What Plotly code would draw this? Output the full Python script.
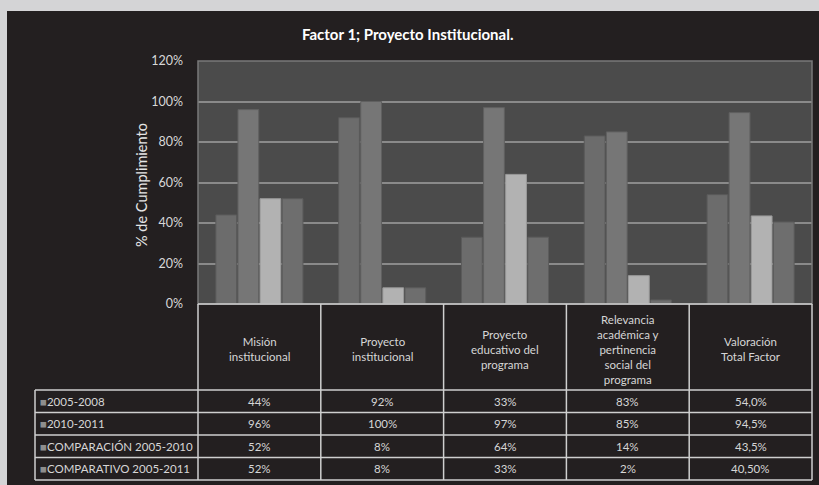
import plotly.graph_objects as go

categories = ["Misión<br>institucional", "Proyecto<br>institucional",
              "Proyecto<br>educativo del<br>programa",
              "Relevancia<br>académica y<br>pertinencia<br>social del<br>programa",
              "Valoración<br>Total Factor"]
series_names = ["2005-2008", "2010-2011", "COMPARACIÓN 2005-2010", "COMPARATIVO 2005-2011"]
s2005_2008 = [44, 92, 33, 83, 54.0]
s2010_2011 = [96, 100, 97, 85, 94.5]
comparacion_2005_2010 = [52, 8, 64, 14, 43.5]
comparativo_2005_2011 = [52, 8, 33, 2, 40.5]
label_2005_2008 = ["44%", "92%", "33%", "83%", "54,0%"]
label_2010_2011 = ["96%", "100%", "97%", "85%", "94,5%"]
label_comparacion = ["52%", "8%", "64%", "14%", "43,5%"]
label_comparativo = ["52%", "8%", "33%", "2%", "40,50%"]
y_ticks = [0, 20, 40, 60, 80, 100, 120]

series_values = [s2005_2008, s2010_2011, comparacion_2005_2010, comparativo_2005_2011]
series_labels = [label_2005_2008, label_2010_2011, label_comparacion, label_comparativo]
bar_colors = ["#6c6c6c", "#767676", "#b2b2b2", "#6e6e6e"]
bar_lines = ["#5a5a5a", "#606060", "#999999", "#5c5c5c"]

W, H = 819, 485
L, R, T, B = 198, 7, 61, 181
PW, PH = W - L - R, H - T - B


def xp(px):
    return (px - L) / PW


def yp(py):
    return (T + PH - py) / PH


fig = go.Figure()
for name, vals, col, lc in zip(series_names, series_values, bar_colors, bar_lines):
    fig.add_trace(go.Bar(x=list(range(len(categories))), y=vals, name=name,
                         marker=dict(color=col, line=dict(color=lc, width=1)),
                         showlegend=False))

shapes = []
shapes.append(dict(type="rect", xref="paper", yref="paper", x0=xp(-5), x1=xp(7), y0=yp(H + 5), y1=yp(-5),
                   fillcolor="#d4d4d6", line=dict(width=0), layer="below"))
shapes.append(dict(type="rect", xref="paper", yref="paper", x0=xp(-5), x1=xp(W + 5), y0=yp(11), y1=yp(-5),
                   fillcolor="#d4d4d6", line=dict(width=0), layer="below"))
shapes.append(dict(type="rect", xref="paper", yref="paper", x0=0, x1=1, y0=0, y1=1,
                   line=dict(color="#7a7a7a", width=1.5), fillcolor="rgba(0,0,0,0)"))

n = len(categories)
line_col = "#cfcfcf"
row_tops = [304, 390, 412.5, 435, 457.5, 480]
for k in range(n + 1):
    shapes.append(dict(type="line", xref="paper", yref="paper", x0=k / n, x1=k / n,
                       y0=yp(row_tops[0]), y1=yp(row_tops[-1]), line=dict(color=line_col, width=1.5)))
shapes.append(dict(type="line", xref="paper", yref="paper", x0=xp(35), x1=xp(35),
                   y0=yp(row_tops[1]), y1=yp(row_tops[-1]), line=dict(color=line_col, width=1.5)))
shapes.append(dict(type="line", xref="paper", yref="paper", x0=0, x1=1,
                   y0=yp(row_tops[0]), y1=yp(row_tops[0]), line=dict(color=line_col, width=1.5)))
for r in row_tops[1:]:
    shapes.append(dict(type="line", xref="paper", yref="paper", x0=xp(35), x1=1,
                       y0=yp(r), y1=yp(r), line=dict(color=line_col, width=1.5)))

annotations = []
FONT = "Lato, 'Open Sans', sans-serif"
TXT = "#d6d6d6"
for i, c in enumerate(categories):
    annotations.append(dict(xref="paper", yref="paper", x=(i + 0.5) / n, y=yp((row_tops[0] + row_tops[1]) / 2 + 2),
                            text=c, showarrow=False, xanchor="center", yanchor="middle",
                            font=dict(family=FONT, size=11.5, color=TXT), align="center"))
for r, (name, labs) in enumerate(zip(series_names, series_labels)):
    yc = yp((row_tops[r + 1] + row_tops[r + 2]) / 2)
    annotations.append(dict(xref="paper", yref="paper", x=xp(38), y=yc, xanchor="left", yanchor="middle",
                            text="<span style='color:#8e8e8e'>■</span>" + name, showarrow=False,
                            font=dict(family=FONT, size=11.5, color=TXT)))
    for i, lab in enumerate(labs):
        annotations.append(dict(xref="paper", yref="paper", x=(i + 0.5) / n, y=yc,
                                xanchor="center", yanchor="middle", text=lab, showarrow=False,
                                font=dict(family=FONT, size=11.5, color=TXT)))
annotations.append(dict(xref="paper", yref="paper", x=xp(141), y=yp(185), text="% de Cumplimiento",
                        textangle=-90, showarrow=False, xanchor="center", yanchor="middle",
                        font=dict(family=FONT, size=14.5, color="#e6e6e6")))
annotations.append(dict(xref="paper", yref="paper", x=xp(407), y=yp(34), text="<b>Factor 1; Proyecto Institucional.</b>",
                        showarrow=False, xanchor="center", yanchor="middle",
                        font=dict(family=FONT, size=15, color="#ffffff")))

fig.update_layout(
    width=W, height=H,
    margin=dict(l=L, r=R, t=T, b=B),
    paper_bgcolor="#231f20",
    plot_bgcolor="#4b4b4b",
    bargap=0.28, bargroupgap=0.06, barmode="group",
    shapes=shapes, annotations=annotations,
    xaxis=dict(showticklabels=False, showgrid=False, zeroline=False, showline=False,
               range=[-0.5, n - 0.5]),
    yaxis=dict(range=[0, 120], tickvals=y_ticks, ticktext=[f"{v}%" for v in y_ticks],
               showgrid=True, gridcolor="#8a8a8a", gridwidth=1.5, zeroline=False,
               tickfont=dict(family=FONT, size=12.5, color="#d8d8d8"), ticklabelstandoff=14),
)

fig.write_html("out.html", config={"displayModeBar": False},
               post_script="document.body.style.margin='0';document.body.style.background='#d4d4d6';")
